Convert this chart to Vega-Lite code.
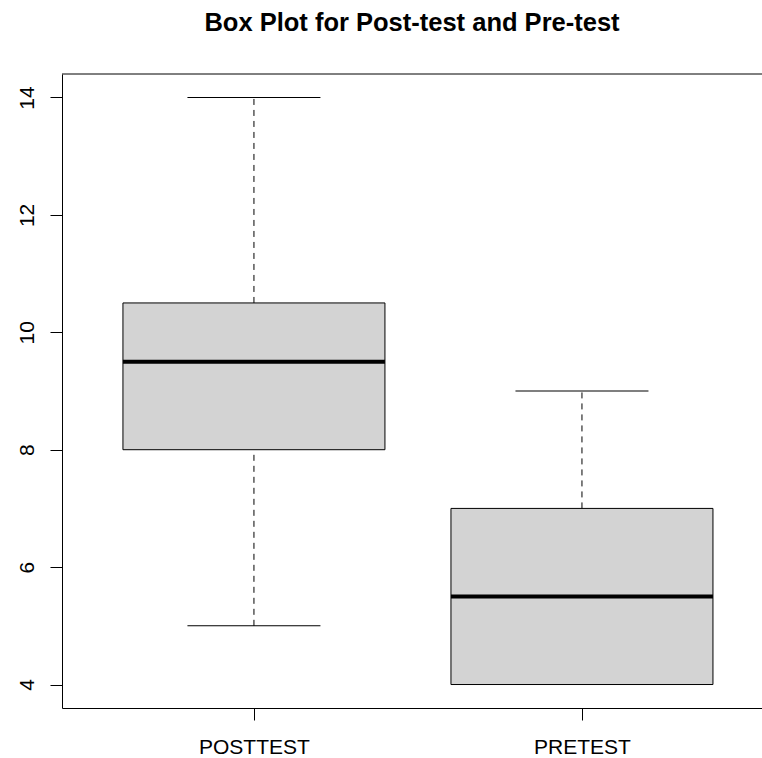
{
  "$schema": "https://vega.github.io/schema/vega-lite/v6.json",
  "autosize": "none",
  "padding": {"left": 62, "top": 74, "right": 0, "bottom": 50},
  "width": 700,
  "height": 634,
  "background": "white",
  "title": {
    "text": "Box Plot for Post-test and Pre-test",
    "font": "Liberation Sans",
    "fontSize": 25.5,
    "fontWeight": "bold",
    "color": "black",
    "anchor": "middle",
    "offset": 37
  },
  "config": {"view": {"stroke": null}, "font": "Liberation Sans"},
  "data": {
    "values": [
      {"group": "POSTTEST", "lower": 5, "q1": 8, "median": 9.5, "q3": 10.5, "upper": 14},
      {"group": "PRETEST", "lower": 4, "q1": 4, "median": 5.5, "q3": 7, "upper": 9}
    ]
  },
  "encoding": {
    "x": {
      "field": "group",
      "type": "nominal",
      "scale": {"type": "point", "padding": 0.567, "align": 0.516},
      "axis": {
        "title": null,
        "grid": false,
        "labelAngle": 0,
        "labelFont": "Liberation Sans",
        "labelFontSize": 21,
        "labelColor": "black",
        "labelBaseline": "top",
        "labelPadding": 16,
        "tickSize": 12,
        "tickColor": "black",
        "tickWidth": 1,
        "domainColor": "black",
        "domainWidth": 1
      }
    }
  },
  "layer": [
    {
      "mark": {"type": "rule", "color": "black", "strokeWidth": 1, "strokeDash": [6, 5]},
      "encoding": {
        "y": {
          "field": "lower",
          "type": "quantitative",
          "scale": {"domain": [3.6, 14.4], "nice": false, "zero": false},
          "axis": {
            "title": null,
            "grid": false,
            "format": "d",
            "values": [4, 6, 8, 10, 12, 14],
            "labelAngle": -90,
            "labelAlign": "center",
            "labelBaseline": "alphabetic",
            "labelPadding": 17,
            "labelFont": "Liberation Sans",
            "labelFontSize": 21,
            "labelColor": "black",
            "tickSize": 12,
            "tickColor": "black",
            "tickWidth": 1,
            "domainColor": "black",
            "domainWidth": 1
          }
        },
        "y2": {"field": "q1"}
      }
    },
    {
      "mark": {"type": "rule", "color": "black", "strokeWidth": 1, "strokeDash": [6, 5]},
      "encoding": {
        "y": {"field": "q3", "type": "quantitative"},
        "y2": {"field": "upper"}
      }
    },
    {
      "mark": {"type": "tick", "color": "black", "size": 133, "thickness": 1, "opacity": 1},
      "encoding": {"y": {"field": "lower", "type": "quantitative"}}
    },
    {
      "mark": {"type": "tick", "color": "black", "size": 133, "thickness": 1, "opacity": 1},
      "encoding": {"y": {"field": "upper", "type": "quantitative"}}
    },
    {
      "mark": {"type": "bar", "size": 262, "fill": "#D3D3D3", "stroke": "black", "strokeWidth": 1, "opacity": 1},
      "encoding": {
        "y": {"field": "q1", "type": "quantitative"},
        "y2": {"field": "q3"}
      }
    },
    {
      "mark": {"type": "tick", "color": "black", "size": 262, "thickness": 4, "opacity": 1},
      "encoding": {"y": {"field": "median", "type": "quantitative"}}
    },
    {
      "data": {"values": [{"top": 14.4}]},
      "mark": {"type": "rule", "color": "black", "strokeWidth": 1},
      "encoding": {
        "x": null,
        "y": {"field": "top", "type": "quantitative"}
      }
    }
  ]
}
